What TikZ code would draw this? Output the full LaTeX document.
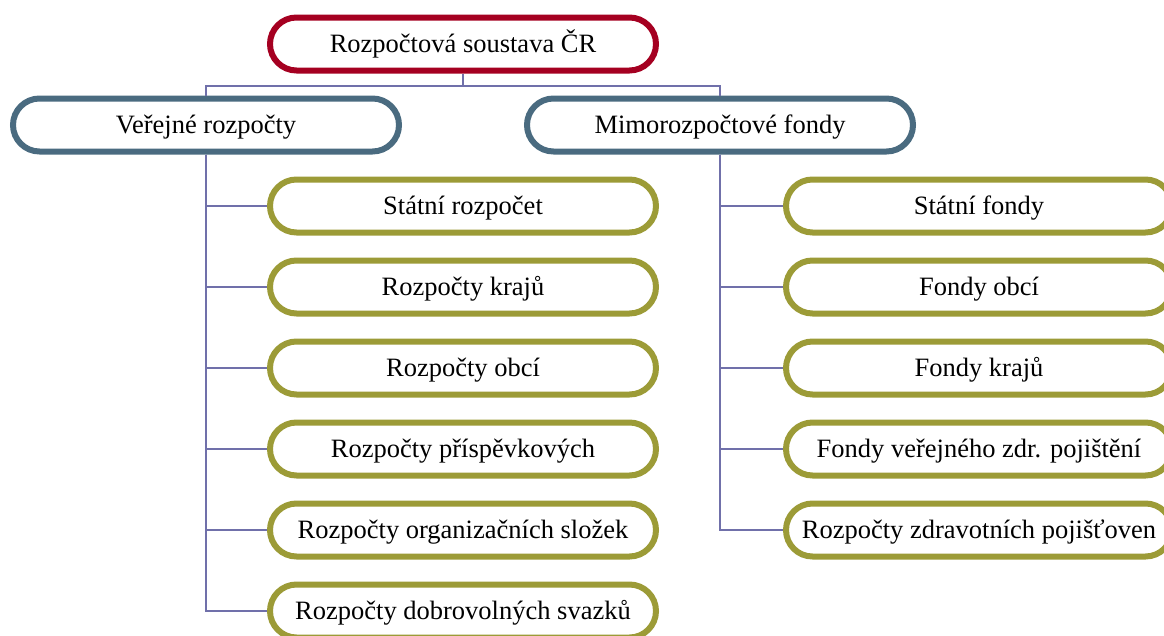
\documentclass[tikz,border=0pt]{standalone}
\usepackage{fontspec}
\setmainfont{Liberation Serif}
\definecolor{topred}{RGB}{165,0,33}
\definecolor{parblue}{RGB}{74,107,128}
\definecolor{chol}{RGB}{156,155,55}
\definecolor{connc}{RGB}{112,112,170}
\begin{document}
\begin{tikzpicture}[x=1pt,y=-1pt,
  pill/.style={rectangle, rounded corners=26.5pt, minimum width=386pt, minimum height=53pt,
    line width=6pt, inner sep=0pt, fill=white, text height=17.5pt, text depth=0pt,
    font=\fontsize{26.5}{30}\selectfont},
  toppill/.style={pill, draw=topred},
  parpill/.style={pill, draw=parblue},
  chpill/.style={pill, draw=chol},
  conn/.style={draw=connc, line width=2pt}]
\useasboundingbox (0,0) rectangle (1164,635);
\begin{scope}
\clip (0,0) rectangle (1164,635);
\coordinate (j) at (463,86);

\node[toppill] (top) at (463,44) {Rozpočtová soustava ČR};
\node[parpill] (lp) at (206,125) {Veřejné rozpočty};
\node[parpill] (rp) at (720,125) {Mimorozpočtové fondy};

\node[chpill] (l1) at (463,206) {Státní rozpočet};
\node[chpill] (l2) at (463,287) {Rozpočty krajů};
\node[chpill] (l3) at (463,368) {Rozpočty obcí};
\node[chpill] (l4) at (463,449) {Rozpočty příspěvkových};
\node[chpill] (l5) at (463,530) {Rozpočty organizačních složek};
\node[chpill] (l6) at (463,611) {Rozpočty dobrovolných svazků};

\node[chpill] (r1) at (979,206) {Státní fondy};
\node[chpill] (r2) at (979,287) {Fondy obcí};
\node[chpill] (r3) at (979,368) {Fondy krajů};
\node[chpill] (r4) at (979,449) {Fondy veřejného zdr. pojištění};
\node[chpill] (r5) at (979,530) {Rozpočty zdravotních pojišťoven};

\draw[conn] (top.south) -- (j);
\draw[conn] (lp.north) |- (j) -| (rp.north);
\foreach \c in {l1,l2,l3,l4,l5,l6}{\draw[conn] (lp.south) |- (\c.west);}
\foreach \c in {r1,r2,r3,r4,r5}{\draw[conn] (rp.south) |- (\c.west);}
\end{scope}
\end{tikzpicture}
\end{document}
